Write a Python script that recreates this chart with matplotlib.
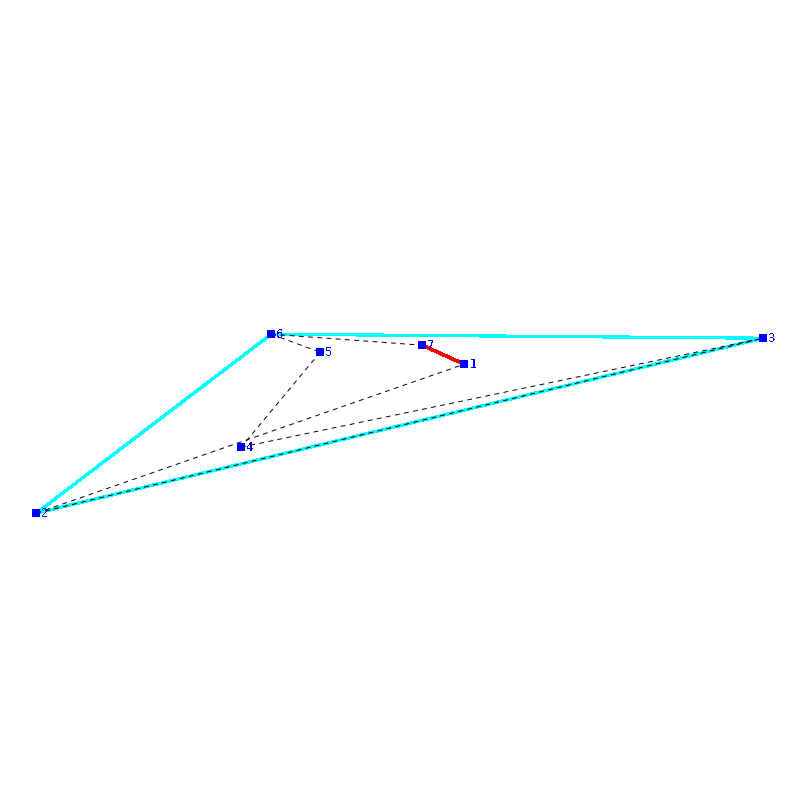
import matplotlib
matplotlib.use('Agg')
from matplotlib import pyplot as plt

# node positions
node_names = ['1', '2', '3', '4', '5', '6', '7']
node_x = [464.2, 36.2, 763.2, 241.2, 320.2, 271.2, 422.2]
node_y = [364.2, 513.2, 338.2, 447.2, 352.2, 334.2, 345.2]

cyan_edges = [(2, 6), (6, 3), (2, 3)]
red_edges = [(7, 1)]
dashed_edges = [(6, 7), (6, 5), (5, 4), (2, 1), (4, 3), (2, 3)]

plt.rcParams['text.antialiased'] = False
plt.rcParams['text.hinting'] = 'native'

fig = plt.figure(figsize=(8, 8), dpi=100)
ax = fig.add_axes([0, 0, 1, 1])
ax.set_xlim(0, 800)
ax.set_ylim(800, 0)
ax.axis('off')


def draw_edges(edges, aliased=True, **style):
    for a, b in edges:
        ax.plot([node_x[a - 1], node_x[b - 1]], [node_y[a - 1], node_y[b - 1]],
                antialiased=not aliased, solid_capstyle='butt', **style)


draw_edges(cyan_edges, color='#00ffff', lw=1.6, zorder=1)
draw_edges(red_edges, color='#ff0000', lw=1.9, zorder=2)
draw_edges(dashed_edges, aliased=False, color='black', lw=0.7, ls=(0, (5, 4.5)), dash_capstyle='butt', zorder=3)

ax.scatter(node_x, node_y, s=26, marker='s', color='#0000ff', linewidths=0, zorder=4)
for name, x, y in zip(node_names, node_x, node_y):
    ax.text(x + 5, y + 0.5, name, color='#0000ff', fontsize=8.5, va='center', ha='left', zorder=5)

fig.savefig('out.png', dpi=100)
